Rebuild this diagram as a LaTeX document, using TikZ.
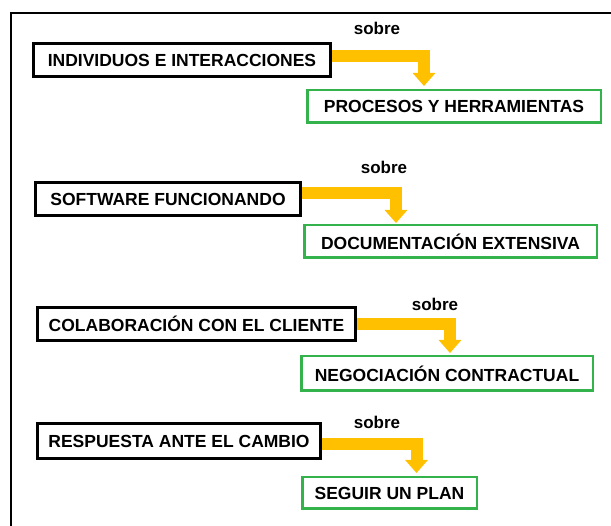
\documentclass[tikz,border=0pt]{standalone}
\usepackage{fontspec}
\setmainfont{Liberation Sans}
\usetikzlibrary{arrows.meta}
\definecolor{gold}{RGB}{255,192,0}
\definecolor{boxgreen}{RGB}{52,178,76}
\begin{document}
\begin{tikzpicture}[x=1pt,y=-1pt,
  boxtext/.style={font=\bfseries\fontsize{17.5}{20}\selectfont},
  blackbox/.style={boxtext,draw=black,line width=3pt,fill=white,inner sep=0pt},
  greenbox/.style={boxtext,draw=boxgreen,line width=2.5pt,fill=white,inner sep=0pt},
  sobrelbl/.style={font=\bfseries\fontsize{17}{19}\selectfont,inner sep=0pt},
  yarrow/.style={draw=gold,line width=12pt,-{Triangle[width=22pt,length=13pt]}}]
\useasboundingbox (0,0) rectangle (611,526);
\fill[white] (0,0) rectangle (611,526);
\coordinate (fbl) at (11,540);
\coordinate (ftl) at (11,13);
\coordinate (ftr) at (625,13);
\draw[line width=1.5pt] (fbl) -- (ftl) -- (ftr);

% boxes
\node[blackbox,minimum width=297pt,minimum height=33pt] (b1) at (182,60) {INDIVIDUOS E INTERACCIONES};
\node[greenbox,minimum width=293.5pt,minimum height=32.5pt] (g1) at (454,106.5) {PROCESOS Y HERRAMIENTAS};

\node[blackbox,minimum width=265pt,minimum height=33pt] (b2) at (168,199) {SOFTWARE FUNCIONANDO};
\node[greenbox,minimum width=292.5pt,minimum height=32.5pt] (g2) at (450.5,241.5) {DOCUMENTACIÓN EXTENSIVA};

\node[blackbox,minimum width=318pt,minimum height=33pt] (b3) at (196.5,324) {COLABORACIÓN CON EL CLIENTE};
\node[greenbox,minimum width=291.5pt,minimum height=34.5pt] (g3) at (447,373.5) {NEGOCIACIÓN CONTRACTUAL};

\node[blackbox,minimum width=283pt,minimum height=35pt] (b4) at (179,441) {RESPUESTA ANTE EL CAMBIO};
\node[greenbox,minimum width=174.5pt,minimum height=31.5pt] (g4) at (389.5,493) {SEGUIR UN PLAN};

% labels
\node[sobrelbl] (s1) at (377,28) {sobre};
\node[sobrelbl] (s2) at (384,167) {sobre};
\node[sobrelbl] (s3) at (435,304) {sobre};
\node[sobrelbl] (s4) at (377,422) {sobre};

% arrows
\begin{scope}[on background layer/.style={}]
\draw[yarrow] ([yshift=4pt]b1.east) -| ([xshift=-30pt,yshift=3pt]g1.north);
\draw[yarrow] ([yshift=5.5pt]b2.east) -| ([xshift=-54.5pt,yshift=1pt]g2.north);
\draw[yarrow] ([yshift=0pt]b3.east) -| ([xshift=3pt,yshift=2pt]g3.north);
\draw[yarrow] ([yshift=-3pt]b4.east) -| ([xshift=27pt,yshift=3pt]g4.north);
\end{scope}
\end{tikzpicture}
\end{document}
